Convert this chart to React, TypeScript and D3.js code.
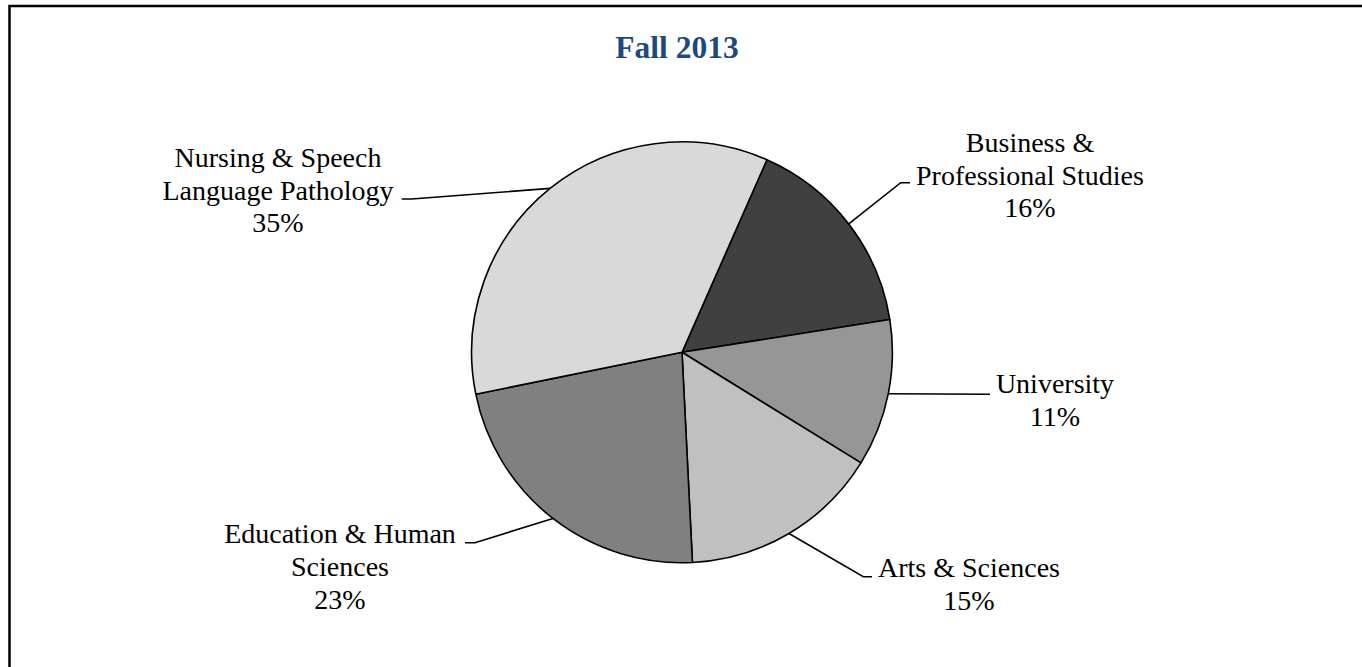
import React from "react";
import * as d3 from "d3";

const title = "Fall 2013";
const categories = [
  "Business & Professional Studies",
  "University",
  "Arts & Sciences",
  "Education & Human Sciences",
  "Nursing & Speech Language Pathology",
];
const shares = [15.9, 11.3, 15.4, 22.6, 34.8];
const labelLines = [
  ["Business &", "Professional Studies"],
  ["University"],
  ["Arts & Sciences"],
  ["Education & Human", "Sciences"],
  ["Nursing & Speech", "Language Pathology"],
];
const fills = ["#404040", "#969696", "#c0c0c0", "#808080", "#d9d9d9"];

// label layout (manually placed, like the original)
const labelLayout = [
  { cx: 1030, y: 151.7, elbow: [900.7, 182.7], end: [910, 182.7] },
  { cx: 1055, y: 393, elbow: [990, 394.2], end: [990, 394.2] },
  { cx: 969, y: 576.7, elbow: [863.3, 576.7], end: [872, 576.7] },
  { cx: 340, y: 543.3, elbow: [475, 542.7], end: [465, 542.7] },
  { cx: 278, y: 166.7, elbow: [411.7, 199], end: [401.7, 199] },
];

const W = 1362;
const H = 667;
const CX = 682;
const CY = 352.3;
const R = 210.4;
const START = (23.8 * Math.PI) / 180;
const FONT = "'Liberation Serif', 'Times New Roman', serif";

export default function App() {
  const total = d3.sum(shares);
  const pie = d3
    .pie<number>()
    .sort(null)
    .startAngle(START)
    .endAngle(START + 2 * Math.PI)
    .value((d) => d);
  const arcs = pie(shares);
  const arc = d3.arc<d3.PieArcDatum<number>>().innerRadius(0).outerRadius(R);

  return (
    <svg
      width={W}
      height={H}
      style={{ position: "absolute", left: 0, top: 0, background: "#fff" }}
    >
      <rect x={9.5} y={6} width={1400} height={700} fill="#fff" stroke="#000" strokeWidth={2.5} />
      <text
        x={677}
        y={57.5}
        textAnchor="middle"
        fontFamily={FONT}
        fontWeight="bold"
        fontSize={31.5}
        fill="#1F497D"
      >
        {title}
      </text>
      <g transform={`translate(${CX},${CY})`}>
        {arcs.map((a, i) => (
          <path
            key={categories[i]}
            d={arc(a) || ""}
            fill={fills[i]}
            stroke="#000"
            strokeWidth={1.6}
            strokeLinejoin="round"
          />
        ))}
      </g>
      {arcs.map((a, i) => {
        const mid = (a.startAngle + a.endAngle) / 2;
        const px = CX + R * Math.sin(mid);
        const py = CY - R * Math.cos(mid);
        const L = labelLayout[i];
        const pct = Math.round((shares[i] / total) * 100) + "%";
        const lines = [...labelLines[i], pct];
        return (
          <g key={"lab" + i}>
            <polyline
              points={`${px},${py} ${L.elbow[0]},${L.elbow[1]} ${L.end[0]},${L.end[1]}`}
              fill="none"
              stroke="#000"
              strokeWidth={1.6}
            />
            <text
              textAnchor="middle"
              fontFamily={FONT}
              fontSize={28}
              fill="#000"
            >
              {lines.map((ln, j) => (
                <tspan key={j} x={L.cx} y={L.y + j * 32.8}>
                  {ln}
                </tspan>
              ))}
            </text>
          </g>
        );
      })}
    </svg>
  );
}
